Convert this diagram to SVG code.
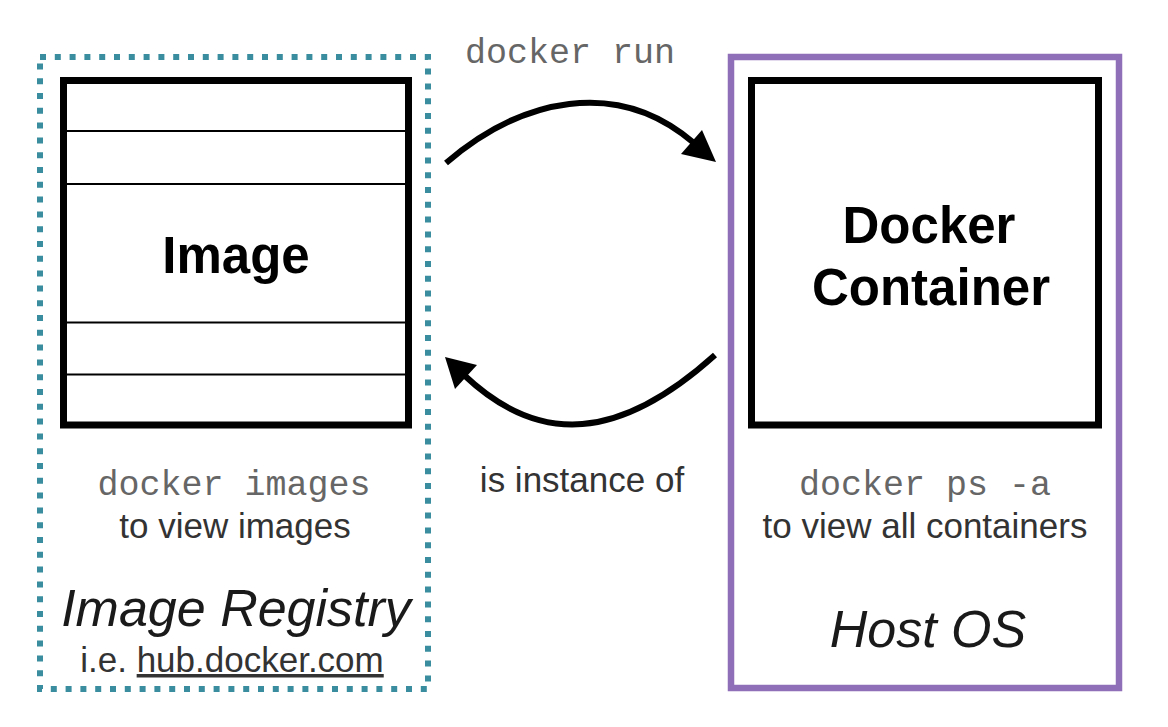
<svg xmlns="http://www.w3.org/2000/svg" width="1168" height="727" viewBox="0 0 1168 727">
  <style>
    .mono { font-family: "Liberation Mono", "Courier New", monospace; fill: #666; font-size: 35px; }
    .sans { font-family: "Liberation Sans", Arial, Helvetica, sans-serif; fill: #333; font-size: 35px; }
    .title { font-family: "Liberation Sans", Arial, Helvetica, sans-serif; fill: #000; font-weight: bold; font-size: 51px; }
    .ital { font-family: "Liberation Sans", Arial, Helvetica, sans-serif; fill: #1a1a1a; font-style: italic; font-size: 52px; }
    .box { fill: #fff; stroke: #000; stroke-width: 7; }
    .layer { stroke: #000; stroke-width: 2; }
    .arc { fill: none; stroke: #000; stroke-width: 6; }
    .head { fill: #000; }
  </style>
  <rect width="1168" height="727" fill="#fff"/>

  <g id="registry">
    <rect x="40" y="57" width="388" height="632" fill="none" stroke="#3a8d9e" stroke-width="6" stroke-dasharray="6 8.8"/>
    <text class="mono" x="234" y="495" text-anchor="middle">docker images</text>
    <text class="sans" x="235" y="538" text-anchor="middle">to view images</text>
    <text class="ital" x="236" y="626" text-anchor="middle">Image Registry</text>
    <text class="sans" x="232" y="672" text-anchor="middle">i.e. <tspan text-decoration="underline">hub.docker.com</tspan></text>
  </g>

  <g id="image">
    <rect class="box" x="63.5" y="80.5" width="345" height="344.5"/>
    <line class="layer" x1="67" y1="131" x2="405" y2="131"/>
    <line class="layer" x1="67" y1="184" x2="405" y2="184"/>
    <line class="layer" x1="67" y1="322.5" x2="405" y2="322.5"/>
    <line class="layer" x1="67" y1="374.5" x2="405" y2="374.5"/>
    <text class="title" x="236" y="273" text-anchor="middle">Image</text>
  </g>

  <g id="host">
    <rect x="731" y="57" width="388" height="631" fill="none" stroke="#8e6fb8" stroke-width="6.5"/>
    <text class="mono" x="925" y="495" text-anchor="middle">docker ps -a</text>
    <text class="sans" x="925" y="538" text-anchor="middle">to view all containers</text>
    <text class="ital" x="928" y="647" text-anchor="middle">Host OS</text>
  </g>

  <g id="container">
    <rect class="box" x="751.5" y="80.5" width="347" height="344.5"/>
    <text class="title" x="929" y="243" text-anchor="middle" font-size="50">Docker</text>
    <text class="title" x="931" y="305" text-anchor="middle" font-size="50">Container</text>
  </g>

  <g id="connectors">
    <path class="arc" d="M446,163 C521,98.5 617,76.7 694,143"/>
    <polygon class="head" points="716,162 702,130 681,154"/>
    <text class="mono" x="570" y="63" text-anchor="middle">docker run</text>

    <path class="arc" d="M715,355 C620,440.5 540,447 464,375"/>
    <polygon class="head" points="445,357 455,389 477,365"/>
    <text class="sans" x="582" y="492" text-anchor="middle">is instance of</text>
  </g>
</svg>
